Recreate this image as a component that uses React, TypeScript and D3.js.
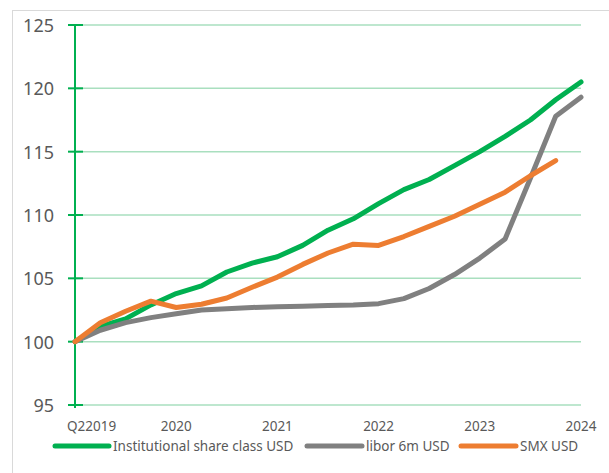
import React from "react";
import * as d3 from "d3";

const periods = [
  "Q2 2019", "Q3 2019", "Q4 2019", "Q1 2020", "Q2 2020", "Q3 2020", "Q4 2020",
  "Q1 2021", "Q2 2021", "Q3 2021", "Q4 2021", "Q1 2022", "Q2 2022", "Q3 2022",
  "Q4 2022", "Q1 2023", "Q2 2023", "Q3 2023", "Q4 2023", "Q1 2024", "Q2 2024",
];

const institutional = [
  100, 101.2, 101.8, 102.9, 103.8, 104.4, 105.5, 106.2, 106.7, 107.6, 108.8,
  109.7, 110.9, 112.0, 112.8, 113.9, 115.0, 116.2, 117.5, 119.1, 120.5,
];

const libor = [
  100, 100.9, 101.5, 101.9, 102.2, 102.5, 102.6, 102.7, 102.75, 102.8, 102.85,
  102.9, 103.0, 103.4, 104.2, 105.3, 106.6, 108.1, 112.9, 117.8, 119.3,
];

const smx = [
  100, 101.5, 102.4, 103.2, 102.7, 102.95, 103.45, 104.3, 105.1, 106.1, 107.0,
  107.7, 107.6, 108.3, 109.1, 109.9, 110.85, 111.8, 113.1, 114.3,
];

const seriesNames = ["Institutional share class USD", "libor 6m USD", "SMX USD"];
const seriesColors = ["#00B050", "#808080", "#ED7D31"];

const xTickIndex = [0, 4, 8, 12, 16, 20];
const xTickLabels = ["Q22019", "2020", "2021", "2022", "2023", "2024"];
const yTicks = [95, 100, 105, 110, 115, 120, 125];

export default function App() {
  const W = 609;
  const H = 473;
  const x = d3.scaleLinear().domain([0, periods.length - 1]).range([75, 581]);
  const y = d3.scaleLinear().domain([95, 125]).range([405, 25]);
  const line = d3
    .line<number>()
    .x((_, i) => x(i))
    .y((d) => y(d));

  const allSeries = [institutional, libor, smx];
  const font = "'Noto Sans', 'Open Sans', sans-serif";

  const legendItems = [
    { lx1: 55, lx2: 109, tx: 113 },
    { lx1: 307, lx2: 362, tx: 366 },
    { lx1: 461, lx2: 516, tx: 520 },
  ];

  return (
    <svg
      width={W}
      height={H}
      style={{ position: "absolute", left: 0, top: 0, background: "#fff" }}
    >
      <rect x={12.5} y={10.5} width={W + 20} height={H + 20} fill="#fff" stroke="#D9D9D9" strokeWidth={1} />
      {yTicks.map((t) => (
        <line key={"g" + t} x1={75} x2={581} y1={y(t)} y2={y(t)} stroke="#A9DFBF" strokeWidth={1.5} />
      ))}
      <line x1={75} x2={75} y1={y(125)} y2={y(95) + 3} stroke="#00B050" strokeWidth={2} />
      {yTicks.map((t) => (
        <g key={"t" + t}>
          <line x1={68} x2={83} y1={y(t)} y2={y(t)} stroke="#00B050" strokeWidth={2} />
          <text
            x={54}
            y={y(t)}
            textAnchor="end"
            dominantBaseline="central"
            fontFamily={font}
            fontSize={18}
            fill="#595959"
          >
            {t}
          </text>
        </g>
      ))}
      {xTickIndex.map((idx, k) => (
        <text
          key={"x" + k}
          x={k === 0 ? 67 : x(idx)}
          y={426}
          textAnchor={k === 0 ? "start" : "middle"}
          dominantBaseline="central"
          fontFamily={font}
          fontSize={13.5}
          fill="#595959"
        >
          {xTickLabels[k]}
        </text>
      ))}
      {allSeries.map((s, i) => (
        <path
          key={"s" + i}
          d={line(s) || ""}
          fill="none"
          stroke={seriesColors[i]}
          strokeWidth={5}
          strokeLinejoin="round"
          strokeLinecap="round"
        />
      ))}
      {legendItems.map((it, i) => (
        <g key={"l" + i}>
          <line
            x1={it.lx1}
            x2={it.lx2}
            y1={446}
            y2={446}
            stroke={seriesColors[i]}
            strokeWidth={5}
            strokeLinecap="round"
          />
          <text
            x={it.tx}
            y={446}
            dominantBaseline="central"
            fontFamily={font}
            fontSize={13.5}
            fill="#595959"
          >
            {seriesNames[i]}
          </text>
        </g>
      ))}
    </svg>
  );
}
